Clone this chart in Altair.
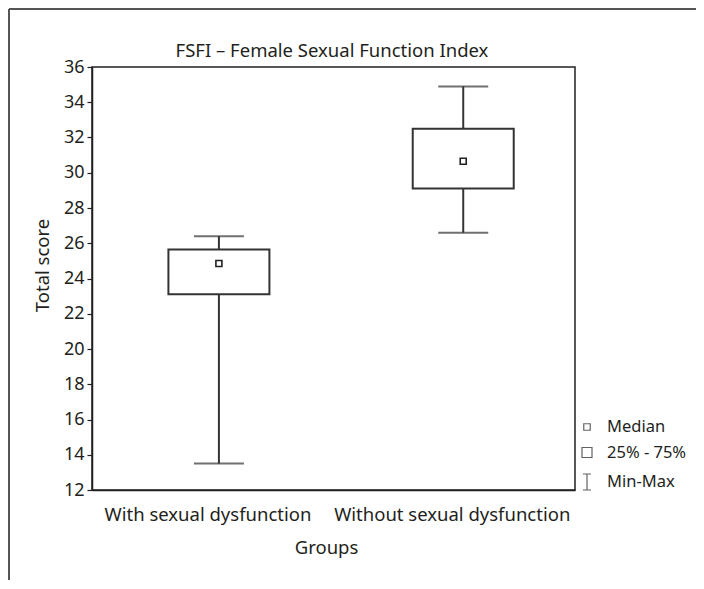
import altair as alt
import pandas as pd

chart_title = "FSFI – Female Sexual Function Index"
groups = ["With sexual dysfunction", "Without sexual dysfunction"]
positions = [1, 2]
mins = [13.5, 26.6]
q1s = [23.1, 29.1]
medians = [24.85, 30.65]
q3s = [25.65, 32.5]
maxs = [26.4, 34.9]
y_ticks = list(range(12, 37, 2))
legend_labels = ["Median", "25% - 75%", "Min-Max"]

df = pd.DataFrame({"group": groups, "pos": positions, "lo": mins, "q1": q1s,
                   "med": medians, "q3": q3s, "hi": maxs})

FONT = "Noto Sans"
INK = "#231f20"
LINE = "#333333"

x_scale = alt.Scale(domain=[0.501, 2.437], nice=False, zero=False)
x_axis = alt.Axis(values=positions, labels=False, title="Groups", grid=False,
                  ticks=False, domain=True, domainColor=INK, domainWidth=1.5,
                  titleFontSize=18.5, titleFont=FONT, titleColor=INK,
                  titleFontWeight="normal", titleX=234, titleY=57,
                  titleBaseline="middle", titleAlign="center")
y_scale = alt.Scale(domain=[12, 36], nice=False, zero=False)
y_axis = alt.Axis(values=y_ticks, title="Total score", grid=False, tickSize=5, tickColor=INK,
                  tickWidth=1.2, domainColor=INK, domainWidth=1.5, labelFontSize=18,
                  labelColor=INK, labelFont=FONT, labelPadding=3, labelOverlap=False,
                  titleFontSize=18.5, titleFont=FONT, titleColor=INK,
                  titleFontWeight="normal", titleAngle=-90, titleX=-50, titleY=198,
                  titleAlign="center", titleBaseline="middle")

def X():
    return alt.X("pos:Q", scale=x_scale, axis=x_axis)

def Y(field):
    return alt.Y(field, scale=y_scale, axis=y_axis)

base = alt.Chart(df)

whisker = base.mark_rule(color=LINE, strokeWidth=2).encode(x=X(), y=Y("lo:Q"), y2="hi:Q")
box = base.mark_bar(size=101, fill="white", stroke=LINE, strokeWidth=2).encode(
    x=X(), y=Y("q1:Q"), y2="q3:Q")
cap_hi = base.mark_tick(orient="horizontal", size=50, thickness=2, color=LINE).encode(
    x=X(), y=Y("hi:Q"))
cap_lo = base.mark_tick(orient="horizontal", size=50, thickness=2, color=LINE).encode(
    x=X(), y=Y("lo:Q"))
median = base.mark_square(size=36, filled=True, fill="white", stroke=INK, strokeWidth=1.6,
                          opacity=1).encode(x=X(), y=Y("med:Q"))
xlabels = base.mark_text(fontSize=18.5, font=FONT, color=INK, baseline="middle",
                         dx=-11).encode(x=X(), y=alt.value(448), text="group:N")

# legend keys
leg_sym_x = 495
leg_txt_x = 515
leg_y = [360, 385.5, 415]

def one(label):
    return alt.Data(values=[{"label": label}])

sym_med = alt.Chart(one(legend_labels[0])).mark_square(size=42, filled=True, fill="white",
                                                       stroke=INK, strokeWidth=1.2).encode(
    x=alt.value(leg_sym_x), y=alt.value(leg_y[0]))
sym_box = alt.Chart(one(legend_labels[1])).mark_square(size=100, filled=True, fill="white",
                                                       stroke=INK, strokeWidth=1.2).encode(
    x=alt.value(leg_sym_x), y=alt.value(leg_y[1]))
sym_mm = alt.Chart(one(legend_labels[2])).mark_point(
    shape="M-0.5,-1H0.5M0,-1V1M-0.5,1H0.5", size=256, color=INK, strokeWidth=1.2,
    filled=False).encode(x=alt.value(leg_sym_x), y=alt.value(leg_y[2]))
texts = [alt.Chart(one(legend_labels[i])).mark_text(align="left", baseline="middle",
                                                    fontSize=16.5, font=FONT,
                                                    color=INK).encode(
    x=alt.value(leg_txt_x), y=alt.value(leg_y[i]), text="label:N") for i in range(3)]

title_mark = alt.Chart(one(chart_title)).mark_text(align="center", baseline="bottom",
                                                   fontSize=18.5, font=FONT,
                                                   color=INK).encode(
    x=alt.value(240), y=alt.value(-6), text="label:N")

# outer frame
frame_top = alt.Chart(one("")).mark_rule(color="#555555", strokeWidth=2).encode(
    x=alt.value(-83), x2=alt.value(640), y=alt.value(-58))
frame_left = alt.Chart(one("")).mark_rule(color="#555555", strokeWidth=2).encode(
    x=alt.value(-83), y=alt.value(-58), y2=alt.value(520))

chart = alt.layer(frame_top, frame_left, title_mark, whisker, cap_hi, cap_lo, box, median,
                  xlabels, sym_med, sym_box, sym_mm, *texts).properties(
    width=483, height=423,
    background="white",
    autosize=alt.AutoSizeParams(type="none"),
    padding={"left": 84, "top": 59, "right": 121, "bottom": 90},
).configure_view(stroke=INK, strokeWidth=1.5)

chart.save("out.html", embed_options={"renderer": "svg", "actions": False})
